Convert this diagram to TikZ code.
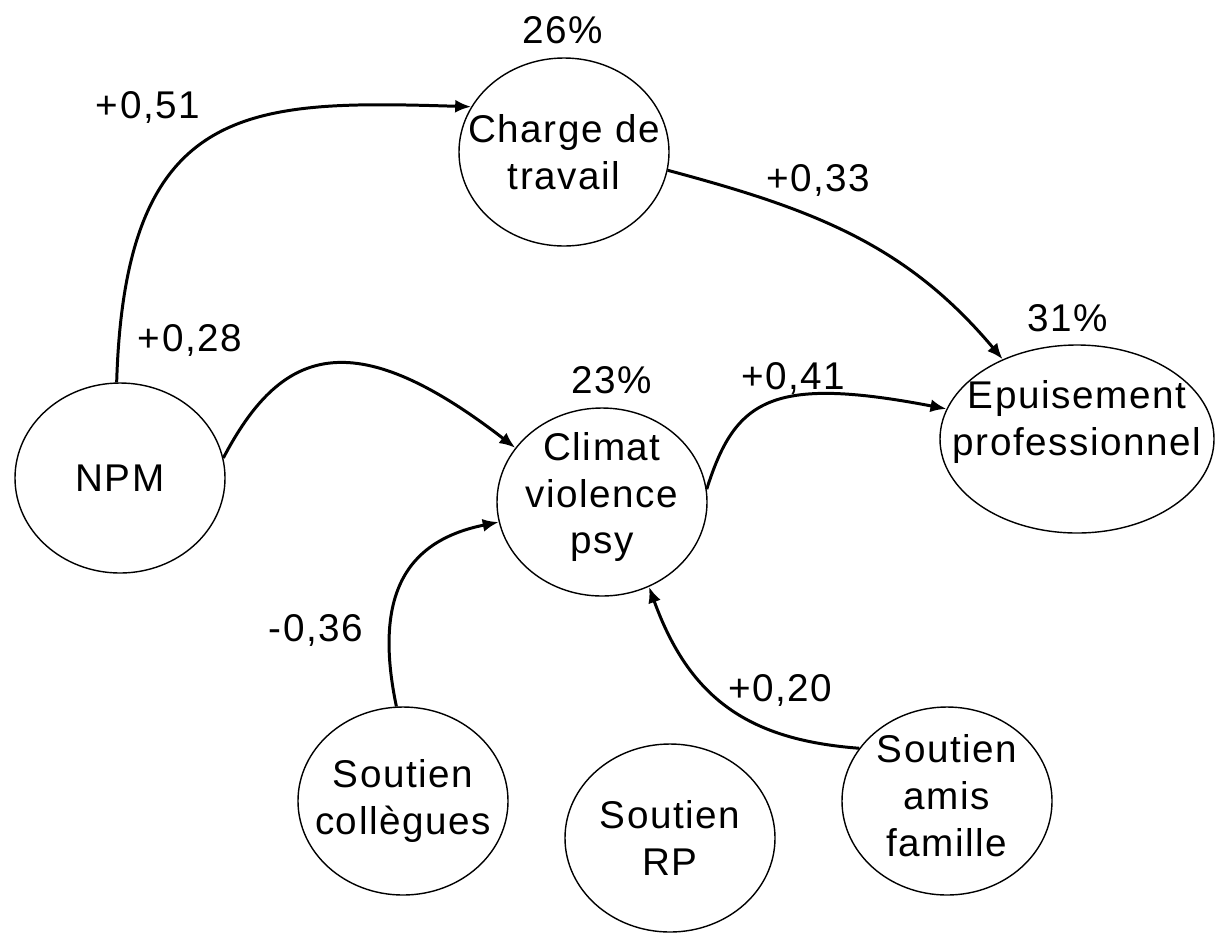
\documentclass[tikz,border=0pt]{standalone}
\usepackage{fontspec}
\setmainfont{Liberation Sans}[LetterSpace=4]
\usetikzlibrary{positioning,shapes,arrows.meta}

\begin{document}
\begin{tikzpicture}[x=0.2mm, y=-0.2mm,
    nodes = {align = center, font=\fontsize{22}{26.7}\selectfont},
    var/.style = {draw, ellipse, line width=0.8pt, inner sep=0pt,
                  minimum width=42mm, minimum height=37.6mm},
    link/.style = {line width=1.7pt, -{Latex[length=3.2mm,width=2.6mm]}}]
    \useasboundingbox[fill=white] (0,0) rectangle (1217,933);
    % variables
    \node (charge) [var] at (564,152) {};
    \node (npm) [var, minimum height=38mm] at (120,478) {};
    \node (climat) [var] at (602,502) {};
    \node (epuis) [var, minimum width=54.8mm] at (1077,439) {};
    \node (scoll) [var] at (403,801) {};
    \node (srp) [var] at (670,838) {};
    \node (samis) [var] at (947,801) {};
    \node (chargetxt) at (charge) {Charge de\\travail};
    \node (npmtxt) at (npm) {NPM};
    \node (climattxt) at ([yshift=1mm]climat) {Climat\\violence\\psy};
    \node (epuistxt) at ([yshift=3.4mm]epuis) {Epuisement\\professionnel};
    \node (scolltxt) at (scoll) {Soutien\\collègues};
    \node (srptxt) at (srp) {Soutien\\RP};
    \node (samistxt) at ([yshift=1mm]samis) {Soutien\\amis\\famille};
    % variance expliquee
    \node (r26) at (563,30) {26\%};
    \node (r23) at (612,380) {23\%};
    \node (r31) at (1068,318) {31\%};
    % chemins
    \draw[link] (npm.92) .. controls (125,100) and (250,100) .. (charge.154);
    \draw[link] (npm.11) .. controls (280,350) and (350,320) .. (climat.148);
    \draw[link] (charge.350) to[out=-15, in=130] (epuis.133);
    \draw[link] (climat.7) .. controls (735,400) and (770,375) .. (epuis.167);
    \draw[link] (scoll.94) .. controls (372,590) and (410,540) .. (climat.191);
    \draw[link] (samis.149) .. controls (750,740) and (690,700) .. (climat.299);
    % coefficients
    \node (c51) at (148,107) {+0,51};
    \node (c28) at (190,340) {+0,28};
    \node (c33) at (818,180) {+0,33};
    \node (c41) at (793,378) {+0,41};
    \node (c36) at (316,630) {-0,36};
    \node (c20) at (780,690) {+0,20};
\end{tikzpicture}
\end{document}
